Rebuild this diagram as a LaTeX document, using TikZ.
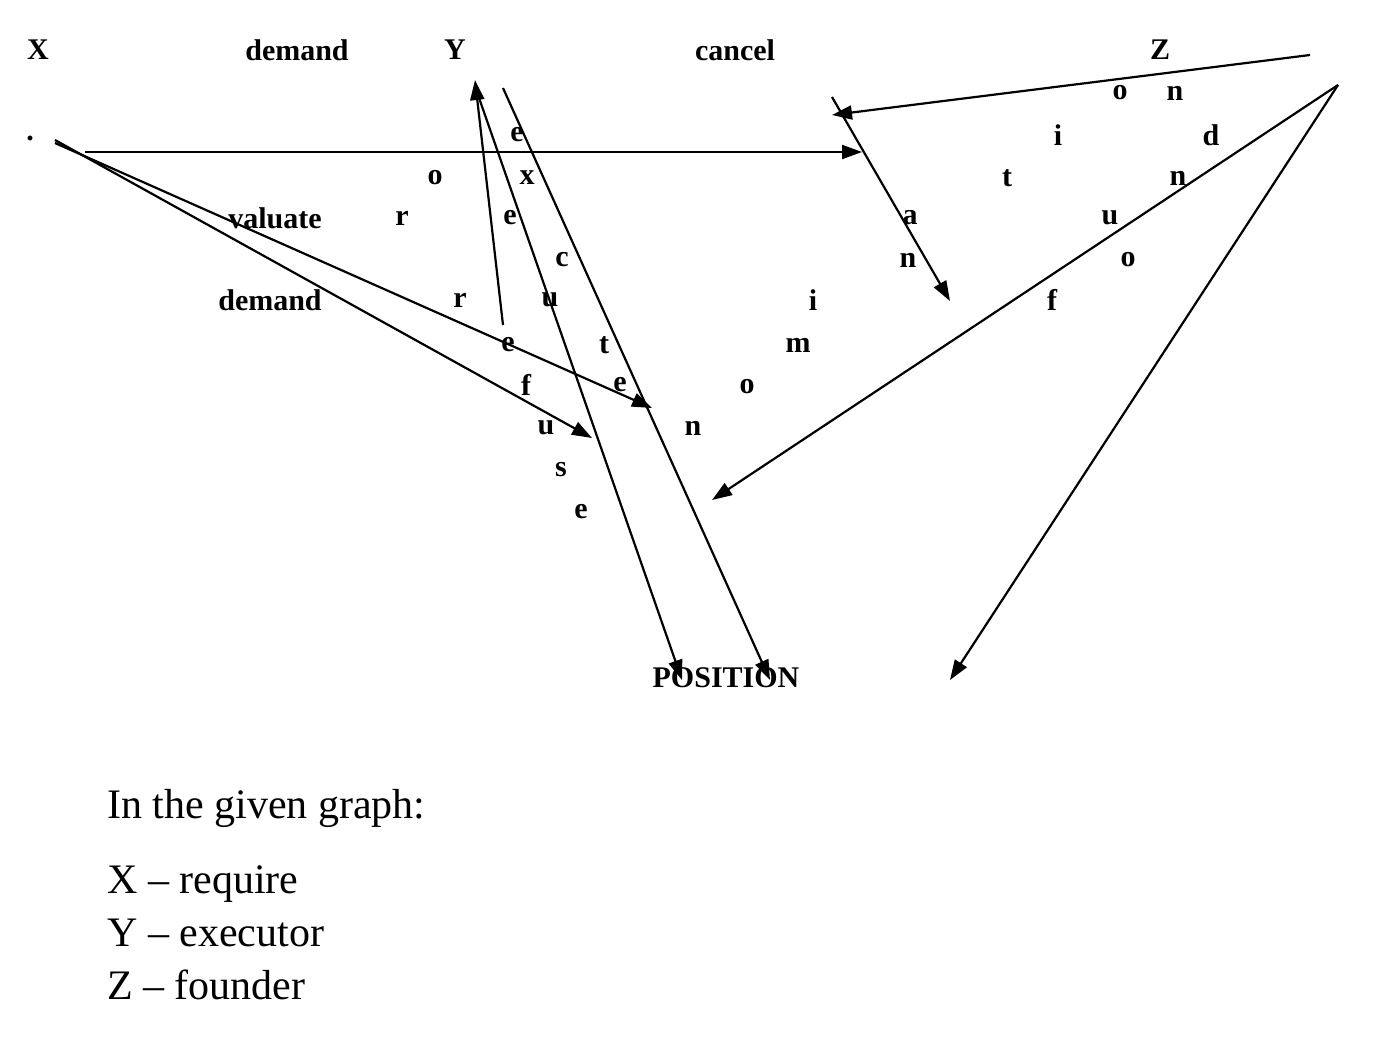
\documentclass[tikz,border=0pt]{standalone}
\usepackage{fontspec}
\setmainfont{Liberation Serif}
\usetikzlibrary{arrows.meta}
\begin{document}
\begin{tikzpicture}[x=1pt,y=-1pt,
  lbl/.style={font=\fontsize{30}{32}\selectfont\bfseries,inner sep=0pt},
  captext/.style={font=\fontsize{42}{46}\selectfont,anchor=base west,inner sep=0pt},
  arr/.style={line width=2.2pt,-{Triangle[length=20pt,width=14pt]}},
  ln/.style={line width=2.2pt}]
\useasboundingbox (0,0) rectangle (1381,1044);
\foreach \t/\x/\y [count=\i] in {X/38/50,demand/297/50,Y/455/50,cancel/735/50,Z/1160/50,
 e/517/135,o/435/178,x/527/178,valuate/275/218,r/402/218,e/510/218,c/562/260,demand/270/300,
 r/460/300,u/550/300,e/508/345,t/604/345,f/526/385,e/620/385,u/546/428,s/561/470,e/581/512,
 o/747/387,n/693/428,m/798/345,i/813/300,a/910/218,n/908/260,o/1120/93,n/1175/93,i/1058/135,
 d/1211/135,t/1007/178,n/1178/178,u/1110/218,o/1128/260,f/1052/300,POSITION/726/678}
 \node[lbl] (t\i) at (\x,\y) {\t};
\node[lbl] (dot) at (30,138) {.};
\coordinate (a1) at (85,152); \coordinate (a2) at (862,152);
\coordinate (b0) at (55,140); \coordinate (b1) at (592,438);
\coordinate (c0) at (55,143); \coordinate (c1) at (652,408);
\coordinate (d0) at (503,325); \coordinate (d1) at (475,80);
\coordinate (e0) at (478,95); \coordinate (e1) at (682,680);
\coordinate (f0) at (503,88); \coordinate (f1) at (770,680);
\coordinate (g0) at (1310,55); \coordinate (g1) at (832,115);
\coordinate (h0) at (832,97); \coordinate (h1) at (950,301);
\coordinate (k0) at (1338,85); \coordinate (k1) at (712,500);
\coordinate (m1) at (950,680);
\draw[arr] (a1) -- (a2);
\draw[arr] (b0) -- (b1);
\draw[arr] (c0) -- (c1);
\draw[arr] (d0) -- (d1);
\draw[arr] (e0) -- (e1);
\draw[arr] (f0) -- (f1);
\draw[arr] (g0) -- (g1);
\draw[arr] (h0) -- (h1);
\draw[arr] (k0) -- (k1);
\draw[arr] (k0) -- (m1);
\node[captext] (q0) at (107,818) {In the given graph:};
\node[captext] (q1) at (107,893) {X – require};
\node[captext] (q2) at (107,946) {Y – executor};
\node[captext] (q3) at (107,999) {Z – founder};
\end{tikzpicture}
\end{document}
